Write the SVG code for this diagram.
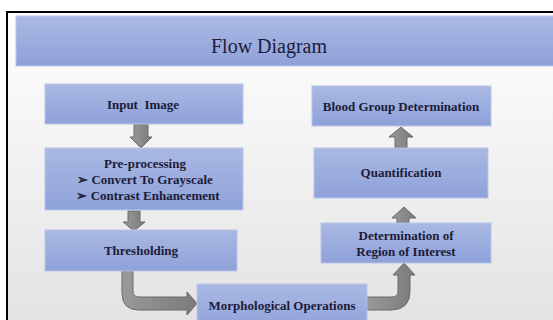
<svg xmlns="http://www.w3.org/2000/svg" width="553" height="320" viewBox="0 0 553 320">
<defs>
<linearGradient id="bg" x1="0" y1="0" x2="0" y2="1">
<stop offset="0" stop-color="#ffffff"/>
<stop offset="1" stop-color="#e2e2e2"/>
</linearGradient>
<linearGradient id="box" x1="0" y1="0" x2="0" y2="1">
<stop offset="0" stop-color="#aab9e3"/>
<stop offset="1" stop-color="#8ea1d9"/>
</linearGradient>
<linearGradient id="arr" x1="0" y1="0" x2="1" y2="0">
<stop offset="0" stop-color="#9a9a9a"/>
<stop offset="1" stop-color="#7a7a7a"/>
</linearGradient>
</defs>
<style>
.box{fill:url(#box);stroke:#b9c5ea;stroke-width:1}
.lbl{font-family:"Liberation Serif","Times New Roman",serif;font-weight:bold;font-size:13px;fill:#1c1c38;text-anchor:middle}
.ttl{font-family:"Liberation Serif","Times New Roman",serif;font-size:20px;fill:#1c1c38;text-anchor:middle}
.arr{fill:url(#arr);stroke:#6a6a6a;stroke-width:1;stroke-linejoin:miter}
</style>
<rect x="0" y="0" width="553" height="320" fill="#ffffff"/>
<rect x="7" y="12" width="560" height="320" fill="url(#bg)" stroke="#000000" stroke-width="2"/>
<g id="title">
<rect x="16" y="16" width="545" height="50" class="box"/>
<text x="269" y="53" class="ttl">Flow Diagram</text>
</g>
<g id="connectors">
<path class="arr" d="M134,124 L148,124 L148,137 L152,137 L141,148 L130,137 L134,137 Z"/>
<path class="arr" d="M128,211 L140,211 L140,222 L145,222 L134,231 L123,222 L128,222 Z"/>
<path class="arr" d="M122,271 L122,293 Q122,310 139,310 L187,310 L187,315 L197,303.5 L187,292 L187,297 L139,297 Q133,297 133,291 L133,271 Z"/>
<path class="arr" d="M367,297 L392,297 Q398,297 398,291 L398,275 L393,275 L404,263 L415,275 L410,275 L410,291 Q410,310 391,310 L367,310 Z"/>
<path class="arr" d="M397,223 L397,218 L392,218 L404,207 L416,218 L409,218 L409,223 Z"/>
<path class="arr" d="M395,148 L395,137 L389,137 L401,127 L413,137 L407,137 L407,148 Z"/>
</g>
<g id="input">
<rect x="45" y="84" width="198" height="40" class="box"/>
<text x="143" y="109" class="lbl" xml:space="preserve">Input  Image</text>
</g>
<g id="preprocessing">
<rect x="45" y="148" width="198" height="62" class="box"/>
<text x="145" y="168" class="lbl">Pre-processing</text>
<text x="145" y="184" class="lbl">➢  Convert To Grayscale</text>
<text x="148" y="200" class="lbl">➢  Contrast Enhancement</text>
</g>
<g id="thresholding">
<rect x="45" y="230" width="192" height="41" class="box"/>
<text x="141" y="255" class="lbl">Thresholding</text>
</g>
<g id="morphological">
<rect x="197" y="284" width="170" height="46" class="box"/>
<text x="282" y="310" class="lbl">Morphological Operations</text>
</g>
<g id="roi">
<rect x="321" y="223" width="170" height="40" class="box"/>
<text x="406" y="240" class="lbl">Determination of</text>
<text x="406" y="256" class="lbl">Region of Interest</text>
</g>
<g id="quantification">
<rect x="314" y="148" width="174" height="50" class="box"/>
<text x="401" y="177" class="lbl">Quantification</text>
</g>
<g id="bloodgroup">
<rect x="312" y="86" width="179" height="40" class="box"/>
<text x="401" y="111" class="lbl">Blood Group Determination</text>
</g>
</svg>
